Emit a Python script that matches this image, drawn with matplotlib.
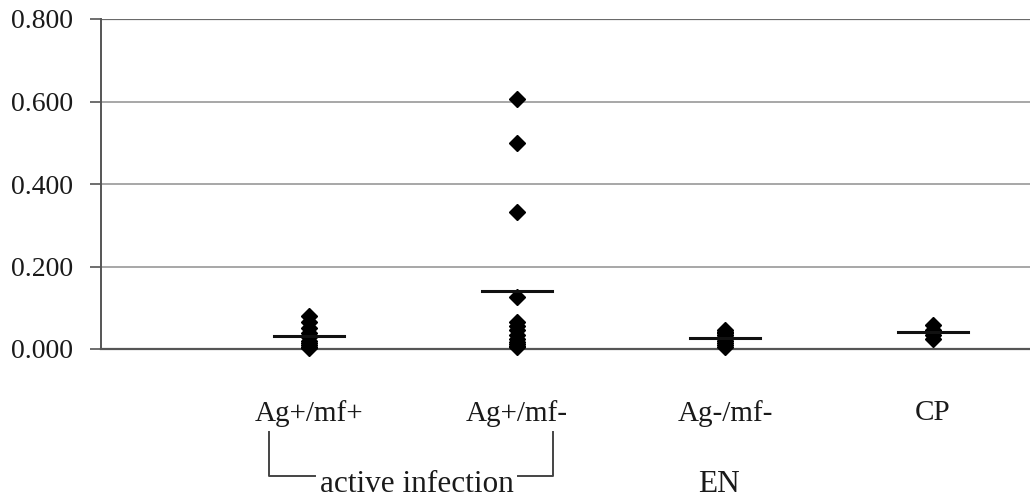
import matplotlib
matplotlib.use("Agg")
import matplotlib.pyplot as plt
import matplotlib.transforms as mtransforms
import numpy as np

# Groups and individual sample values
categories = ["Ag+/mf+", "Ag+/mf-", "Ag-/mf-", "CP"]
values_ag_pos_mf_pos = [0.080, 0.065, 0.050, 0.040, 0.030, 0.020, 0.015, 0.010, 0.005, 0.003]
values_ag_pos_mf_neg = [0.605, 0.500, 0.333, 0.127, 0.065, 0.055, 0.045, 0.035,
                        0.025, 0.018, 0.012, 0.008, 0.004]
values_ag_neg_mf_neg = [0.045, 0.042, 0.040, 0.035, 0.030, 0.025, 0.020, 0.015, 0.010, 0.005]
values_cp = [0.058, 0.045, 0.035, 0.025]
groups = [values_ag_pos_mf_pos, values_ag_pos_mf_neg, values_ag_neg_mf_neg, values_cp]

y_ticks = [0.0, 0.2, 0.4, 0.6, 0.8]
y_tick_labels = ["0.000", "0.200", "0.400", "0.600", "0.800"]

plt.rcParams["font.family"] = ["Liberation Serif", "DejaVu Serif"]
FS_TICK = 20
FS_CAT = 21
FS_GROUP = 22.5
TXT = "#1a1a1a"

fig = plt.figure(figsize=(10.30, 4.97), dpi=100)
ax = fig.add_axes([101 / 1030, 1 - 349 / 497, 929 / 1030, 330 / 497])

ax.set_xlim(0, 929 / 208)
ax.set_ylim(0, 0.8)

# horizontal grid
for yv in y_ticks[1:-1]:
    ax.axhline(yv, color="#a0a0a0", lw=1.3, zorder=1)
ax.axhline(0.8, color="#6a6a6a", lw=1.6, zorder=1)

for s in ["top", "right"]:
    ax.spines[s].set_visible(False)
ax.spines["left"].set_color("#555555")
ax.spines["left"].set_linewidth(1.4)
ax.spines["bottom"].set_color("#555555")
ax.spines["bottom"].set_linewidth(1.6)

ax.set_yticks(y_ticks)
ax.set_yticklabels(y_tick_labels, fontsize=FS_TICK, color=TXT)
ax.tick_params(axis="y", direction="out", length=8, width=1.2, color="#555555", pad=12)

positions = np.arange(1, len(categories) + 1)
ax.set_xticks(positions)
ax.set_xticklabels(categories, fontsize=FS_CAT, color=TXT)
ax.tick_params(axis="x", length=0, pad=37)

# individual points and group means
half = 35 / 208
for pos, vals in zip(positions, groups):
    ax.plot([pos] * len(vals), vals, linestyle="none", marker="D", ms=8,
            color="black", zorder=3, clip_on=False)
    m = float(np.mean(vals))
    ax.plot([pos - half, pos + half], [m, m], color="#111111", lw=2.2, zorder=4)

# grouping annotations below the axis
trans = mtransforms.blended_transform_factory(ax.transData, ax.transAxes)
y_top, y_bot = -0.2515, -0.385
xl, xr = 0.808, 2.173
ax.plot([xl, xl, 1.029], [y_top, y_bot, y_bot], color="#444444", lw=1.4,
        transform=trans, clip_on=False)
ax.plot([2.005, xr, xr], [y_bot, y_bot, y_top], color="#444444", lw=1.4,
        transform=trans, clip_on=False)
ax.text(1.517, -0.433, "active infection", transform=trans, ha="center",
        va="baseline", fontsize=FS_GROUP, color=TXT)
ax.text(2.97, -0.433, "EN", transform=trans, ha="center", va="baseline",
        fontsize=FS_GROUP, color=TXT)

fig.savefig("out.png", dpi=100)
